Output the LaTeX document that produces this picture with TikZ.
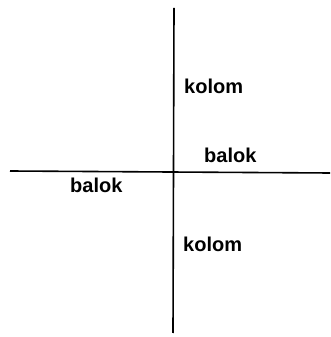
\documentclass[tikz,border=0pt]{standalone}
\usepackage{fontspec}
\setmainfont{Liberation Sans}
\begin{document}
\begin{tikzpicture}[x=1pt,y=1pt,
  lbl/.style={anchor=base west,inner sep=0pt,font=\fontsize{20}{24}\selectfont\bfseries},
  member/.style={line width=1.6pt}]
\useasboundingbox (0,0) rectangle (331,337);
\coordinate (vt) at (174,329);
\coordinate (vb) at (173,4);
\coordinate (hl) at (10,166);
\coordinate (hr) at (330,164);
\draw[member] (vt) -- (vb);
\draw[member] (hl) -- (hr);
\node[lbl] (k1) at (184,243) {kolom};
\node[lbl] (b1) at (204,174) {balok};
\node[lbl] (b2) at (70,144) {balok};
\node[lbl] (k2) at (183,85) {kolom};
\end{tikzpicture}
\end{document}
